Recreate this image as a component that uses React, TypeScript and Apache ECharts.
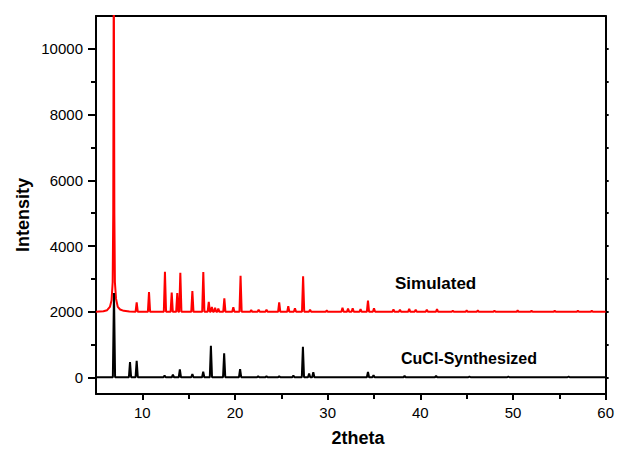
import React, { useEffect, useRef } from "react";
import * as echarts from "echarts";

// ---- data ----
const simBase = 2000;
const synBase = 10;

// broad main reflection of the simulated pattern (tail points)
const simMainX = [5, 5.8, 6.2, 6.5, 6.68, 6.8, 6.86, 6.92, 6.98, 7.04, 7.16, 7.35, 7.6, 8.0, 8.6];
const simMainY = [2000, 2020, 2050, 2150, 2350, 2900, 5000, 13000, 5000, 2900, 2400, 2150, 2070, 2030, 2010];

const simPeakX = [9.39, 10.72, 12.44, 13.17, 13.77, 14.1, 15.4, 16.58, 17.17, 17.5, 17.85, 18.2, 18.85, 19.82, 20.6, 21.75, 22.55, 23.4, 24.77, 25.75, 26.47, 27.35, 28.1, 29.9, 31.6, 32.2, 32.7, 33.55, 34.35, 35.0, 37.1, 37.8, 38.8, 39.5, 40.7, 41.8, 43.5, 45.0, 46.2, 48.0, 50.5, 52.0, 54.5, 57.0, 58.5];
const simPeakY = [2290, 2600, 3220, 2590, 2570, 3190, 2630, 3210, 2300, 2150, 2120, 2100, 2410, 2140, 3100, 2050, 2060, 2060, 2290, 2170, 2110, 3080, 2060, 2040, 2120, 2100, 2110, 2080, 2340, 2110, 2070, 2060, 2090, 2060, 2060, 2080, 2030, 2040, 2040, 2030, 2040, 2030, 2030, 2030, 2030];

const synPeakX = [6.94, 8.67, 9.39, 12.4, 13.3, 14.05, 15.4, 16.57, 17.4, 18.83, 20.55, 22.5, 23.4, 24.77, 26.3, 27.33, 28.0, 28.45, 34.35, 34.95, 38.3, 41.7, 45.3, 49.5, 56.0];
const synPeakY = [2570, 470, 510, 60, 90, 250, 110, 180, 970, 740, 260, 40, 40, 40, 60, 940, 120, 160, 170, 70, 50, 50, 30, 30, 30];

const xMajorTicks = [10, 20, 30, 40, 50, 60];
const xMinorTicks = [15, 25, 35, 45, 55];
const yMajorTicks = [0, 2000, 4000, 6000, 8000, 10000];
const yMinorTicks = [1000, 3000, 5000, 7000, 9000];
const yRightTicks = [0, 1000, 2000, 3000, 4000, 5000, 6000, 7000, 8000, 9000, 10000];

const seriesNames = ["Simulated", "CuCl-Synthesized"];

// each peak drawn as base - top - base around its position
function buildPattern(
  base: number,
  px: number[],
  py: number[],
  hw: number,
  start: number,
  end: number,
  extra: [number, number][] = []
): [number, number][] {
  const pts: [number, number][] = [...extra];
  if (!extra.length) pts.push([start, base]);
  px.forEach((x, i) => {
    pts.push([x - hw, base]);
    pts.push([x, py[i]]);
    pts.push([x + hw, base]);
  });
  pts.push([end, base]);
  pts.sort((a, b) => a[0] - b[0]);
  return pts;
}

const FONT = '"Liberation Sans", Arial, Helvetica, sans-serif';

export default function App() {
  const ref = useRef<HTMLDivElement>(null);
  useEffect(() => {
    if (!ref.current) return;
    const chart = echarts.init(ref.current, undefined, { renderer: "svg" });
    const simData = buildPattern(
      simBase,
      simPeakX,
      simPeakY,
      0.12,
      5,
      60,
      simMainX.map((x, i) => [x, simMainY[i]] as [number, number])
    );
    const synData = buildPattern(synBase, synPeakX, synPeakY, 0.12, 5, 60);
    const axisLine = { show: true, onZero: false, lineStyle: { color: "#000", width: 2 } };
    const plain = (v: number) => String(v);
    chart.setOption({
      animation: false,
      backgroundColor: "#fff",
      grid: { left: 96, top: 16, right: 11, bottom: 58, containLabel: false },
      xAxis: [
        {
          type: "value",
          min: 5,
          max: 60,
          position: "bottom",
          axisLine,
          axisTick: { show: true, length: 6, customValues: xMajorTicks, lineStyle: { color: "#000", width: 2 } },
          axisLabel: { customValues: xMajorTicks, formatter: plain, color: "#000", fontSize: 15, fontFamily: FONT, margin: 11 },
          splitLine: { show: false },
        },
        {
          type: "value",
          min: 5,
          max: 60,
          position: "bottom",
          axisLine: { show: false, onZero: false },
          axisTick: { show: true, length: 5, customValues: xMinorTicks, lineStyle: { color: "#000", width: 2 } },
          axisLabel: { show: false },
          splitLine: { show: false },
        },
        {
          type: "value",
          min: 5,
          max: 60,
          position: "top",
          axisLine,
          axisTick: { show: false },
          axisLabel: { show: false },
          splitLine: { show: false },
        },
      ],
      yAxis: [
        {
          type: "value",
          min: -500,
          max: 11000,
          position: "left",
          axisLine,
          axisTick: { show: true, length: 8, customValues: yMajorTicks, lineStyle: { color: "#000", width: 2 } },
          axisLabel: { customValues: yMajorTicks, formatter: plain, color: "#000", fontSize: 15, fontFamily: FONT, margin: 13 },
          splitLine: { show: false },
        },
        {
          type: "value",
          min: -500,
          max: 11000,
          position: "left",
          axisLine: { show: false, onZero: false },
          axisTick: { show: true, length: 5, customValues: yMinorTicks, lineStyle: { color: "#000", width: 2 } },
          axisLabel: { show: false },
          splitLine: { show: false },
        },
        {
          type: "value",
          min: -500,
          max: 11000,
          position: "right",
          axisLine,
          axisTick: { show: true, length: 3, customValues: yRightTicks, lineStyle: { color: "#000", width: 2 } },
          axisLabel: { show: false },
          splitLine: { show: false },
        },
      ],
      series: [
        {
          name: seriesNames[0],
          type: "line",
          xAxisIndex: 0,
          yAxisIndex: 0,
          data: simData,
          showSymbol: false,
          clip: true,
          lineStyle: { color: "#ff0000", width: 2 },
          z: 2,
        },
        {
          name: seriesNames[1],
          type: "line",
          xAxisIndex: 0,
          yAxisIndex: 0,
          data: synData,
          showSymbol: false,
          clip: true,
          lineStyle: { color: "#000000", width: 2 },
          z: 3,
        },
      ],
      graphic: [
        {
          type: "text",
          x: 395,
          y: 283,
          style: { text: seriesNames[0], font: `bold 17px ${FONT}`, fill: "#000", verticalAlign: "middle", textVerticalAlign: "middle" },
        },
        {
          type: "text",
          x: 401,
          y: 358,
          style: { text: seriesNames[1], font: `bold 16px ${FONT}`, fill: "#000", verticalAlign: "middle", textVerticalAlign: "middle" },
        },
        {
          type: "text",
          x: 358,
          y: 438,
          style: { text: "2theta", font: `bold 18px ${FONT}`, fill: "#000", align: "center", textAlign: "center", verticalAlign: "middle", textVerticalAlign: "middle" },
        },
        {
          type: "text",
          x: 23,
          y: 215,
          rotation: Math.PI / 2,
          style: { text: "Intensity", font: `bold 18px ${FONT}`, fill: "#000", align: "center", textAlign: "center", verticalAlign: "middle", textVerticalAlign: "middle" },
        },
      ],
    });
    return () => chart.dispose();
  }, []);
  return <div ref={ref} style={{ position: "fixed", left: 0, top: 0, width: 617, height: 452 }} />;
}
